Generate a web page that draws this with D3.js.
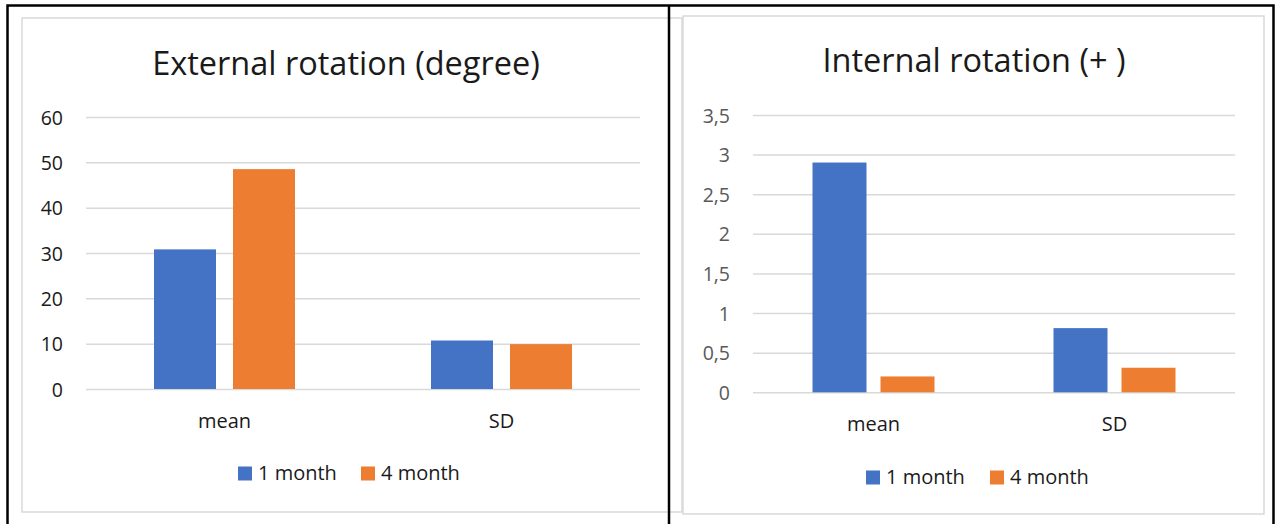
<!DOCTYPE html>
<html><head><meta charset="utf-8">
<script src="https://cdn.jsdelivr.net/npm/d3@7"></script>
<style>body{margin:0;background:#fff;}svg{display:block;font-family:"Open Sans",sans-serif;}</style>
</head><body>
<svg id="c" width="1284" height="524"></svg>
<script>
const categories = ["mean", "SD"];
const seriesNames = ["1 month", "4 month"];
const seriesColors = ["#4472C4", "#ED7D31"];
const externalMonth1 = [30.8, 10.7];
const externalMonth4 = [48.5, 9.9];
const internalMonth1 = [2.9, 0.81];
const internalMonth4 = [0.2, 0.31];
const externalTicks = [0, 10, 20, 30, 40, 50, 60];
const internalTicks = [0, 0.5, 1, 1.5, 2, 2.5, 3, 3.5];

const svg = d3.select("#c");

function drawChart(cfg){
  const g = svg.append("g");
  g.append("rect").attr("x",cfg.box[0]).attr("y",cfg.box[1]).attr("width",cfg.box[2]).attr("height",cfg.box[3])
    .attr("fill","#fff").attr("stroke","#d9d9d9").attr("stroke-width",1.5);
  g.append("text").attr("x",cfg.titleX).attr("y",cfg.titleY).attr("text-anchor","middle")
    .attr("font-size",cfg.titleSize).attr("fill","#1a1a1a").text(cfg.title);

  const y = d3.scaleLinear().domain([0, d3.max(cfg.ticks)]).range([cfg.y0, cfg.y1]);
  const x0 = d3.scaleBand().domain(categories).range([cfg.x0, cfg.x1]).paddingInner(0).paddingOuter(0);
  const x1 = d3.scaleBand().domain(seriesNames).range([0, 2*cfg.barW + cfg.gap]).paddingInner(cfg.gap/(cfg.barW+cfg.gap)).paddingOuter(0);

  const axis = d3.axisLeft(y).tickValues(cfg.ticks).tickSize(-(cfg.x1-cfg.x0))
    .tickFormat(d => String(d).replace(".", ","));
  const ag = g.append("g").attr("transform",`translate(${cfg.x0},0)`).call(axis);
  ag.select(".domain").remove();
  ag.selectAll(".tick line").attr("stroke","#d9d9d9").attr("stroke-width",1.5);
  ag.selectAll(".tick text").attr("x",-(cfg.x0-cfg.labelRight)).attr("dy","0.36em")
    .attr("font-size",cfg.tickSize).attr("fill",cfg.tickColor).attr("font-family","Open Sans, sans-serif");

  const series = [cfg.s1, cfg.s2];
  categories.forEach((c,i)=>{
    const gx = x0(c) + x0.bandwidth()/2 - (2*cfg.barW+cfg.gap)/2;
    seriesNames.forEach((s,j)=>{
      g.append("rect").attr("x",gx + x1(s)).attr("width",x1.bandwidth())
        .attr("y",y(series[j][i])).attr("height",y(0)-y(series[j][i]))
        .attr("fill",seriesColors[j]);
    });
    g.append("text").attr("x",x0(c)+x0.bandwidth()/2).attr("y",cfg.catY).attr("text-anchor","middle")
      .attr("font-size",cfg.textSize).attr("fill","#1a1a1a").text(c);
  });

  // legend
  seriesNames.forEach((s,j)=>{
    const lx = cfg.legX[j];
    g.append("rect").attr("x",lx).attr("y",cfg.legY-13.5).attr("width",14).attr("height",14).attr("fill",seriesColors[j]);
    g.append("text").attr("x",lx+20).attr("y",cfg.legY).attr("font-size",cfg.textSize).attr("fill","#1a1a1a").text(s);
  });
}

drawChart({
  box:[22,18,660,494], title:"External rotation (degree)", titleX:346, titleY:75, titleSize:32.5,
  ticks:externalTicks, y0:389, y1:117, x0:86, x1:640, labelRight:63,
  barW:62, gap:17, s1:externalMonth1, s2:externalMonth4, catY:428, tickSize:19.5, textSize:20, tickColor:"#1a1a1a",
  legX:[238,361], legY:480
});
drawChart({
  box:[683,16,581,498], title:"Internal rotation (+ )", titleX:974, titleY:72, titleSize:32.5,
  ticks:internalTicks, y0:392.3, y1:115, x0:753, x1:1235, labelRight:730,
  barW:54, gap:14, s1:internalMonth1, s2:internalMonth4, catY:431, tickSize:19.5, textSize:20, tickColor:"#595959",
  legX:[866,990], legY:484
});

// outer black frame (drawn last)
svg.append("path").attr("d","M7.5,524 V5.5 H1273.5 V524 M669,5.5 V524")
  .attr("fill","none").attr("stroke","#000").attr("stroke-width",2.5);
</script>
</body></html>
